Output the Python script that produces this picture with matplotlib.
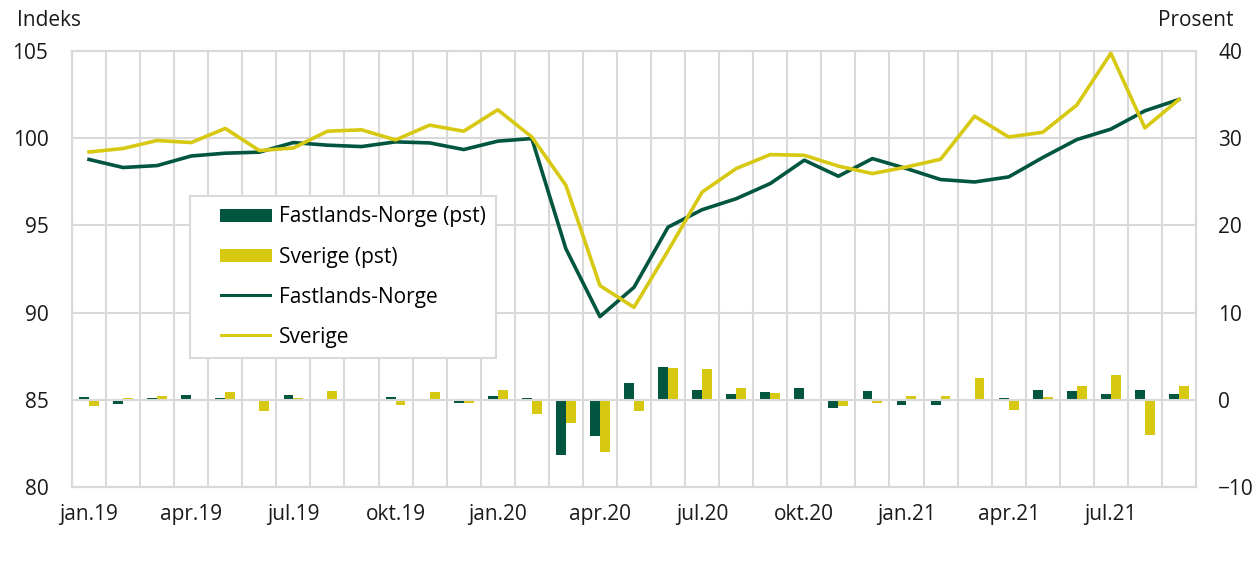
import matplotlib
matplotlib.use("Agg")
import matplotlib.pyplot as plt
import numpy as np
from matplotlib.patches import Patch, Rectangle
from matplotlib.legend_handler import HandlerPatch

plt.rcParams['font.family'] = ['Open Sans', 'DejaVu Sans']

months = ["jan.19", "feb.19", "mar.19", "apr.19", "mai.19", "jun.19", "jul.19", "aug.19", "sep.19",
          "okt.19", "nov.19", "des.19", "jan.20", "feb.20", "mar.20", "apr.20", "mai.20", "jun.20",
          "jul.20", "aug.20", "sep.20", "okt.20", "nov.20", "des.20", "jan.21", "feb.21", "mar.21",
          "apr.21", "mai.21", "jun.21", "jul.21", "aug.21", "sep.21"]

norge_index = [98.78, 98.32, 98.43, 98.98, 99.14, 99.20, 99.75, 99.60, 99.52, 99.79, 99.73, 99.35,
               99.83, 99.98, 93.66, 89.77, 91.45, 94.90, 95.90, 96.53, 97.40, 98.74, 97.82, 98.83,
               98.26, 97.63, 97.49, 97.78, 98.89, 99.92, 100.52, 101.57, 102.22]
sverige_index = [99.21, 99.41, 99.87, 99.75, 100.56, 99.29, 99.44, 100.40, 100.48, 99.90, 100.75, 100.40,
                 101.63, 100.07, 97.30, 91.55, 90.30, 93.55, 96.91, 98.26, 99.06, 99.02, 98.40, 97.97,
                 98.35, 98.79, 101.26, 100.07, 100.34, 101.90, 104.87, 100.59, 102.22]
norge_pct = [0.34, -0.46, 0.15, 0.57, 0.15, 0.04, 0.57, -0.19, -0.10, 0.27, -0.08, -0.34,
             0.46, 0.23, -6.38, -4.20, 1.95, 3.71, 1.11, 0.65, 0.88, 1.38, -0.96, 0.99,
             -0.61, -0.61, -0.15, 0.19, 1.18, 1.03, 0.61, 1.07, 0.61]
sverige_pct = [-0.73, 0.23, 0.38, -0.19, 0.84, -1.26, 0.15, 0.96, 0.10, -0.57, 0.88, -0.34,
               1.18, -1.64, -2.71, -5.96, -1.34, 3.59, 3.48, 1.41, 0.76, 0.03, -0.69, -0.38,
               0.38, 0.46, 2.52, -1.22, 0.27, 1.53, 2.90, -4.09, 1.61]

green = '#02553f'
yellow = '#d7c812'
grid_c = '#d9d9d9'
fs = 15
lw = 2.6

fig = plt.figure(figsize=(12.55, 5.68), dpi=100)
ax = fig.add_axes([72/1255, 1-487/568, (1196-72)/1255, (487-51)/568])
ax2 = ax.twinx()

x = np.arange(len(months))
w = 0.29
ax2.bar(x - w/2, norge_pct, width=w, color=green, zorder=2)
ax2.bar(x + w/2, sverige_pct, width=w, color=yellow, zorder=2)

ax.plot(x, norge_index, color=green, lw=lw, zorder=3)
ax.plot(x, sverige_index, color=yellow, lw=lw, zorder=3)

ax.set_xlim(-0.5, len(months) - 0.5)
ax.set_ylim(80, 105)
ax2.set_ylim(-10, 40)
ax.set_yticks([80, 85, 90, 95, 100, 105])
ax2.set_yticks([-10, 0, 10, 20, 30, 40])

ax.set_xticks(x[::3])
ax.set_xticklabels(months[::3])
ax.set_xticks(np.arange(-0.5, len(months), 1), minor=True)

ax.grid(False)
ax.xaxis.grid(True, which='minor', color=grid_c, lw=1.5)
ax.yaxis.grid(True, which='major', color=grid_c, lw=1.5)
ax.set_axisbelow(True)

for a in (ax, ax2):
    for s in a.spines.values():
        s.set_color(grid_c)
        s.set_linewidth(1.5)
    a.tick_params(which='both', length=0, labelsize=fs, colors='#1a1a1a')
ax.tick_params(axis='y', pad=17)
ax2.tick_params(axis='y', pad=16)
ax.tick_params(axis='x', pad=12)

ax.set_zorder(ax2.get_zorder() + 1)
ax.patch.set_visible(False)

fig.text(17/1255, 1-21/568, "Indeks", fontsize=fs, va='center', ha='left', color='#1a1a1a')
fig.text(1233/1255, 1-21/568, "Prosent", fontsize=fs, va='center', ha='right', color='#1a1a1a')

OFF = 0.27  # fraction of handle box left empty


def make_patch(hpx):
    def f(legend, orig_handle, xdescent, ydescent, width, height, fontsize):
        x0 = -xdescent + width * OFF
        hh = hpx * 0.72  # px -> pt
        y0 = -ydescent + height / 2 - hh / 2
        return Rectangle((x0, y0), width * (1 - OFF), hh)
    return f


handles = [Patch(facecolor=green, edgecolor='none'),
           Patch(facecolor=yellow, edgecolor='none'),
           Patch(facecolor=green, edgecolor='none'),
           Patch(facecolor=yellow, edgecolor='none')]
hmap = {handles[0]: HandlerPatch(patch_func=make_patch(13)),
        handles[1]: HandlerPatch(patch_func=make_patch(13)),
        handles[2]: HandlerPatch(patch_func=make_patch(3.6)),
        handles[3]: HandlerPatch(patch_func=make_patch(3.6))}
labels = ["Fastlands-Norge (pst)", "Sverige (pst)", "Fastlands-Norge", "Sverige"]
leg = ax.legend(handles, labels, handler_map=hmap, loc='upper left',
                bbox_to_anchor=((190-72)/1124, 1-(196-51)/436),
                fontsize=fs, frameon=True, fancybox=False, framealpha=1, edgecolor=grid_c,
                handlelength=3.45, handleheight=0.8, handletextpad=0.3, labelspacing=0.92,
                borderpad=0.5, borderaxespad=0)
leg.get_frame().set_linewidth(1.5)
leg.set_zorder(10)

fig.savefig("out.png", dpi=100)
